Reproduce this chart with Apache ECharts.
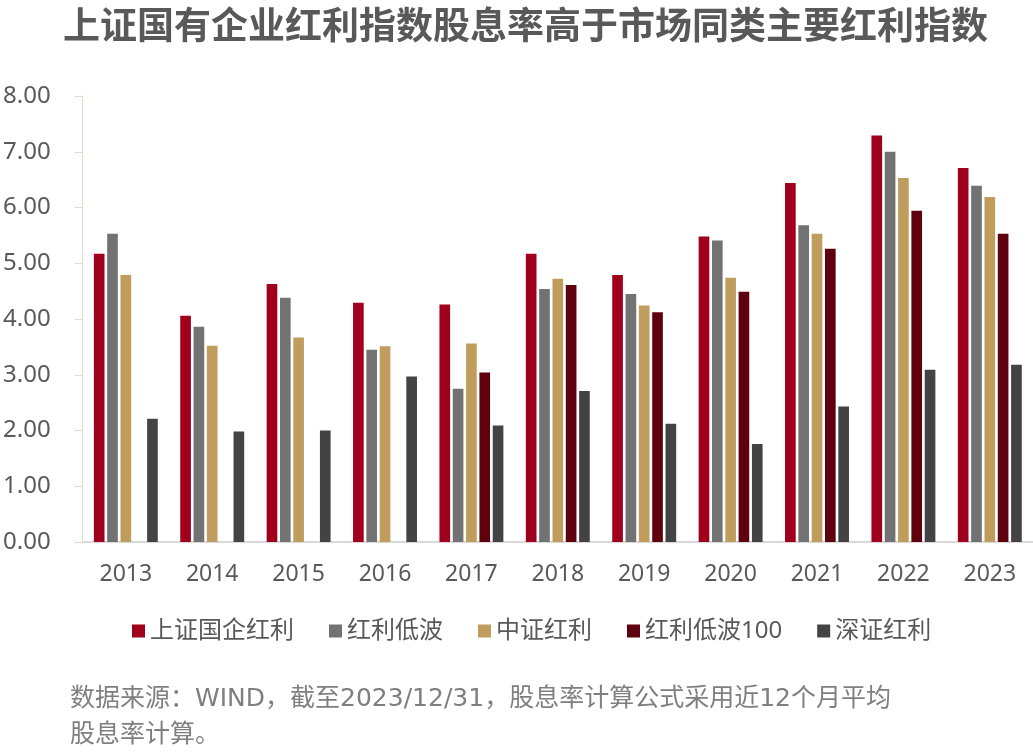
<!DOCTYPE html>
<html>
<head>
<meta charset="utf-8">
<script src="https://cdn.jsdelivr.net/npm/echarts@6/dist/echarts.min.js"></script>
<style>
  html, body { margin: 0; padding: 0; background: #ffffff; }
  #chart { width: 1033px; height: 756px; }
</style>
</head>
<body>
<div id="chart"></div>
<script>
// ---- Data ----
const categories = ['2013','2014','2015','2016','2017','2018','2019','2020','2021','2022','2023'];
const seriesNames = ['上证国企红利','红利低波','中证红利','红利低波100','深证红利'];
const sseSoe   = [5.17, 4.06, 4.63, 4.29, 4.26, 5.17, 4.79, 5.48, 6.44, 7.29, 6.71];
const lowVol   = [5.53, 3.86, 4.38, 3.45, 2.75, 4.54, 4.45, 5.41, 5.68, 7.00, 6.39];
const csiDiv   = [4.79, 3.52, 3.67, 3.51, 3.56, 4.72, 4.24, 4.74, 5.53, 6.53, 6.19];
const lowVol100= [null, null, null, null, 3.04, 4.61, 4.12, 4.49, 5.26, 5.94, 5.53];
const szseDiv  = [2.21, 1.98, 2.00, 2.97, 2.09, 2.71, 2.12, 1.76, 2.43, 3.09, 3.18];
const yTicks = { min: 0, max: 8, interval: 1 };
const titleText = '上证国有企业红利指数股息率高于市场同类主要红利指数';
const noteText = '数据来源：WIND，截至2023/12/31，股息率计算公式采用近12个月平均\n股息率计算。';

const colors = ['#A0001B', '#727272', '#C09D5C', '#5F000E', '#434343'];
const allValues = [sseSoe, lowVol, csiDiv, lowVol100, szseDiv];
const FONT = "'Noto Sans', 'Noto Sans CJK SC', sans-serif";

const chart = echarts.init(document.getElementById('chart'), null, { renderer: 'canvas' });
chart.setOption({
  backgroundColor: '#ffffff',
  animation: false,
  title: [
    {
      text: titleText,
      left: 63,
      top: 6,
      padding: 0,
      textStyle: { fontFamily: "'Noto Sans CJK SC', sans-serif", fontSize: 37, fontWeight: 'bold', color: '#595959' }
    },
    {
      text: noteText,
      left: 70,
      top: 681,
      padding: 0,
      textStyle: { fontFamily: "'DejaVu Sans', 'Noto Sans CJK SC', sans-serif", fontSize: 25, fontWeight: 'normal', color: '#7F7F7F', lineHeight: 36 }
    }
  ],
  legend: {
    data: seriesNames,
    left: 132,
    top: 619,
    padding: 0,
    icon: 'rect',
    itemWidth: 13,
    itemHeight: 13,
    itemGap: 35,
    textStyle: { fontFamily: FONT, fontSize: 24, color: '#595959' }
  },
  grid: { left: 82, right: -5, top: 96, bottom: 214, containLabel: false },
  xAxis: {
    type: 'category',
    data: categories,
    axisLine: { show: true, lineStyle: { color: '#D9D9D9', width: 2 } },
    axisTick: { show: false },
    axisLabel: { fontFamily: FONT, fontSize: 23, color: '#595959', margin: 21 },
    splitLine: { show: false }
  },
  yAxis: {
    type: 'value',
    min: yTicks.min,
    max: yTicks.max,
    interval: yTicks.interval,
    axisLine: { show: true, lineStyle: { color: '#E8D9C0', width: 1 } },
    axisTick: { show: true, length: 8, lineStyle: { color: '#E8D9C0' } },
    axisLabel: { fontFamily: FONT, fontSize: 24, color: '#595959', margin: 32,
                 formatter: v => v.toFixed(2) },
    splitLine: { show: false }
  },
  series: seriesNames.map((name, i) => ({
    name,
    type: 'bar',
    data: allValues[i],
    barGap: '25%',
    barCategoryGap: '26%',
    itemStyle: { color: colors[i] }
  }))
});
</script>
</body>
</html>
